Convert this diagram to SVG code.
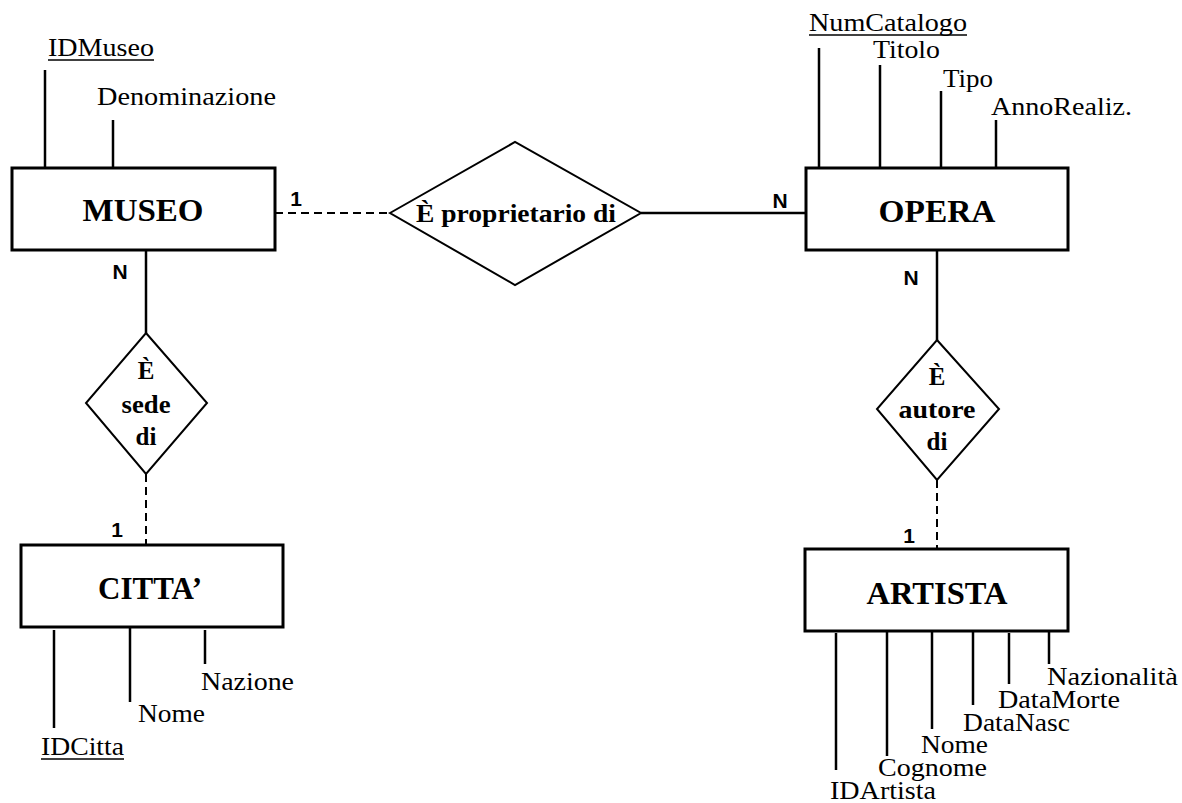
<svg xmlns="http://www.w3.org/2000/svg" width="1182" height="803" viewBox="0 0 1182 803">
<style>
.ent{fill:#fff;stroke:#000;stroke-width:3}
.rel{fill:#fff;stroke:#000;stroke-width:2}
.ln{stroke:#000;stroke-width:2.5;fill:none}
.dash{stroke:#000;stroke-width:2;fill:none;stroke-dasharray:8 5}
.attr{font-family:"Liberation Serif","Times New Roman",serif;font-size:25px;fill:#000}
.ename{font-family:"Liberation Serif","Times New Roman",serif;font-size:31px;font-weight:bold;fill:#000;text-anchor:middle}
.rname{font-family:"Liberation Serif","Times New Roman",serif;font-size:25px;font-weight:bold;fill:#000;text-anchor:middle}
.card{font-family:"Liberation Sans",Arial,sans-serif;font-size:21px;font-weight:bold;fill:#000;text-anchor:middle}
.ul{stroke:#000;stroke-width:1.3}
</style>
<rect width="1182" height="803" fill="#fff"/>
<g id="connectors">
<line class="dash" x1="275" y1="213" x2="390" y2="213"/>
<line class="ln" x1="641" y1="213" x2="806" y2="213"/>
<line class="ln" x1="146" y1="250" x2="146" y2="333"/>
<line class="dash" x1="146" y1="474" x2="146" y2="545"/>
<line class="ln" x1="937" y1="250" x2="937" y2="340"/>
<line class="dash" x1="937" y1="480" x2="937" y2="549"/>
<text class="card" x="296" y="206">1</text>
<text class="card" x="780" y="208">N</text>
<text class="card" x="120" y="279">N</text>
<text class="card" x="117" y="537">1</text>
<text class="card" x="911" y="285">N</text>
<text class="card" x="909" y="543">1</text>
</g>
<g id="museo">
<line class="ln" x1="45" y1="70" x2="45" y2="168"/>
<line class="ln" x1="113" y1="120" x2="113" y2="168"/>
<rect class="ent" x="12" y="168" width="263" height="82"/>
<text class="ename" x="143" y="221" textLength="121" lengthAdjust="spacingAndGlyphs">MUSEO</text>
<text class="attr" x="48" y="56" textLength="106" lengthAdjust="spacingAndGlyphs">IDMuseo</text>
<line class="ul" x1="48" y1="60" x2="154" y2="60"/>
<text class="attr" x="97" y="105" textLength="179" lengthAdjust="spacingAndGlyphs">Denominazione</text>
</g>
<g id="opera">
<line class="ln" x1="819" y1="48" x2="819" y2="168"/>
<line class="ln" x1="880" y1="65" x2="880" y2="168"/>
<line class="ln" x1="941" y1="91" x2="941" y2="168"/>
<line class="ln" x1="996" y1="120" x2="996" y2="170"/>
<rect class="ent" x="806" y="168" width="262" height="82"/>
<text class="ename" x="937" y="222" textLength="117" lengthAdjust="spacingAndGlyphs">OPERA</text>
<text class="attr" x="809" y="31" textLength="158" lengthAdjust="spacingAndGlyphs">NumCatalogo</text>
<line class="ul" x1="809" y1="35" x2="967" y2="35"/>
<text class="attr" x="873" y="58" textLength="67" lengthAdjust="spacingAndGlyphs">Titolo</text>
<text class="attr" x="943" y="87" textLength="50" lengthAdjust="spacingAndGlyphs">Tipo</text>
<text class="attr" x="991" y="115" textLength="141" lengthAdjust="spacingAndGlyphs">AnnoRealiz.</text>
</g>
<g id="proprietario">
<polygon class="rel" points="390,213 515,142 641,213 515,285"/>
<text class="rname" x="516" y="222" textLength="200" lengthAdjust="spacingAndGlyphs">È proprietario di</text>
</g>
<g id="sede">
<polygon class="rel" points="146,333 207,403 146,474 86,403"/>
<text class="rname" x="146" y="379">È</text>
<text class="rname" x="146" y="413" textLength="49" lengthAdjust="spacingAndGlyphs">sede</text>
<text class="rname" x="146" y="445">di</text>
</g>
<g id="autore">
<polygon class="rel" points="937,340 999,409 937,480 877,409"/>
<text class="rname" x="937" y="385">È</text>
<text class="rname" x="937" y="418" textLength="77" lengthAdjust="spacingAndGlyphs">autore</text>
<text class="rname" x="937" y="450">di</text>
</g>
<g id="citta">
<rect class="ent" x="21" y="545" width="262" height="82"/>
<text class="ename" x="150" y="599" textLength="104" lengthAdjust="spacingAndGlyphs">CITTA’</text>
<line class="ln" x1="54" y1="630" x2="54" y2="728"/>
<line class="ln" x1="130" y1="627" x2="130" y2="702"/>
<line class="ln" x1="205" y1="630" x2="205" y2="664"/>
<text class="attr" x="41" y="755" textLength="83" lengthAdjust="spacingAndGlyphs">IDCitta</text>
<line class="ul" x1="41" y1="759" x2="124" y2="759"/>
<text class="attr" x="138" y="722" textLength="67" lengthAdjust="spacingAndGlyphs">Nome</text>
<text class="attr" x="201" y="690" textLength="93" lengthAdjust="spacingAndGlyphs">Nazione</text>
</g>
<g id="artista">
<rect class="ent" x="805" y="549" width="263" height="82"/>
<text class="ename" x="937" y="604" textLength="141" lengthAdjust="spacingAndGlyphs">ARTISTA</text>
<line class="ln" x1="836" y1="633" x2="836" y2="770"/>
<line class="ln" x1="887" y1="631" x2="887" y2="756"/>
<line class="ln" x1="932" y1="631" x2="932" y2="729"/>
<line class="ln" x1="973" y1="631" x2="973" y2="705"/>
<line class="ln" x1="1009" y1="633" x2="1009" y2="684"/>
<line class="ln" x1="1049" y1="631" x2="1049" y2="664"/>
<text class="attr" x="830" y="799" textLength="106" lengthAdjust="spacingAndGlyphs">IDArtista</text>
<text class="attr" x="878" y="776" textLength="109" lengthAdjust="spacingAndGlyphs">Cognome</text>
<text class="attr" x="921" y="753" textLength="67" lengthAdjust="spacingAndGlyphs">Nome</text>
<text class="attr" x="963" y="731" textLength="107" lengthAdjust="spacingAndGlyphs">DataNasc</text>
<text class="attr" x="998" y="708" textLength="122" lengthAdjust="spacingAndGlyphs">DataMorte</text>
<text class="attr" x="1047" y="685" textLength="131" lengthAdjust="spacingAndGlyphs">Nazionalità</text>
</g>
</svg>
